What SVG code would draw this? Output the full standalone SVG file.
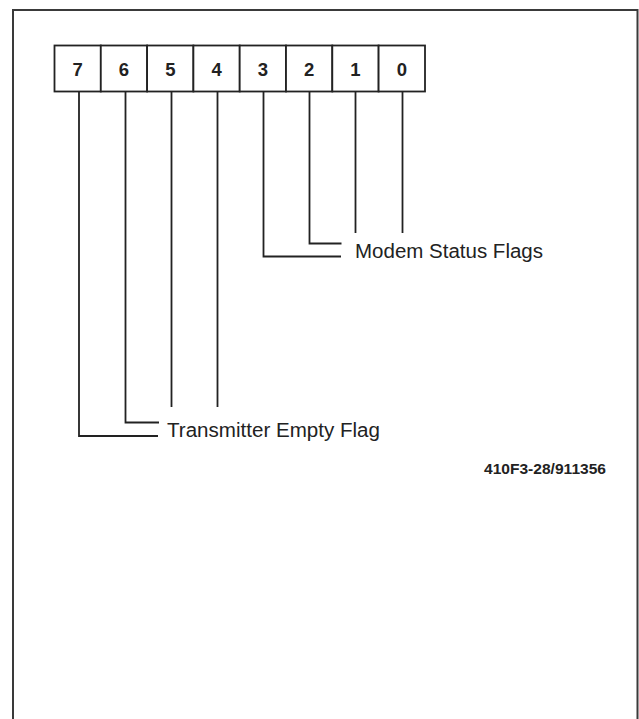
<svg xmlns="http://www.w3.org/2000/svg" width="639" height="719" viewBox="0 0 639 719">
<style>
.frame{fill:none;stroke:#3a3a3a;stroke-width:2}
.cell{fill:#fff;stroke:#222;stroke-width:1.8}
.bit{font-family:"Liberation Sans",Arial,sans-serif;font-size:18.5px;font-weight:bold;fill:#222;text-anchor:middle}
.lbl{font-family:"Liberation Sans",Arial,sans-serif;font-size:20px;fill:#222}
.ref{font-family:"Liberation Sans",Arial,sans-serif;font-size:15px;font-weight:bold;fill:#222}
.conn{fill:none;stroke:#222;stroke-width:1.8}
</style>
<rect width="639" height="719" fill="#fff"/>
<path class="frame" d="M13 719 V10 H637.5 V719"/>
<g id="register">
<rect class="cell" x="54.5" y="45.5" width="46.3" height="46"/>
<rect class="cell" x="100.8" y="45.5" width="46.3" height="46"/>
<rect class="cell" x="147.1" y="45.5" width="46.3" height="46"/>
<rect class="cell" x="193.4" y="45.5" width="46.3" height="46"/>
<rect class="cell" x="239.7" y="45.5" width="46.3" height="46"/>
<rect class="cell" x="286" y="45.5" width="46.3" height="46"/>
<rect class="cell" x="332.3" y="45.5" width="46.3" height="46"/>
<rect class="cell" x="378.6" y="45.5" width="46.4" height="46"/>
<text class="bit" x="77.7" y="75.5">7</text>
<text class="bit" x="124" y="75.5">6</text>
<text class="bit" x="170.3" y="75.5">5</text>
<text class="bit" x="216.6" y="75.5">4</text>
<text class="bit" x="262.9" y="75.5">3</text>
<text class="bit" x="309.2" y="75.5">2</text>
<text class="bit" x="355.5" y="75.5">1</text>
<text class="bit" x="401.8" y="75.5">0</text>
</g>
<g id="connectors">
<path class="conn" d="M79 91.5 V436 H158"/>
<path class="conn" d="M125.5 91.5 V422.5 H159"/>
<path class="conn" d="M171.5 91.5 V407"/>
<path class="conn" d="M217.5 91.5 V407"/>
<path class="conn" d="M263.5 91.5 V256.5 H341"/>
<path class="conn" d="M309.5 91.5 V243.5 H341.5"/>
<path class="conn" d="M355.5 91.5 V233"/>
<path class="conn" d="M402.5 91.5 V233"/>
</g>
<g id="modem-status">
<text class="lbl" x="355" y="258.3" textLength="188" lengthAdjust="spacingAndGlyphs">Modem Status Flags</text>
</g>
<g id="transmitter-empty">
<text class="lbl" x="167" y="436.5" textLength="213" lengthAdjust="spacingAndGlyphs">Transmitter Empty Flag</text>
</g>
<g id="figure-ref">
<text class="ref" x="484" y="474" textLength="122" lengthAdjust="spacingAndGlyphs">410F3-28/911356</text>
</g>
</svg>
